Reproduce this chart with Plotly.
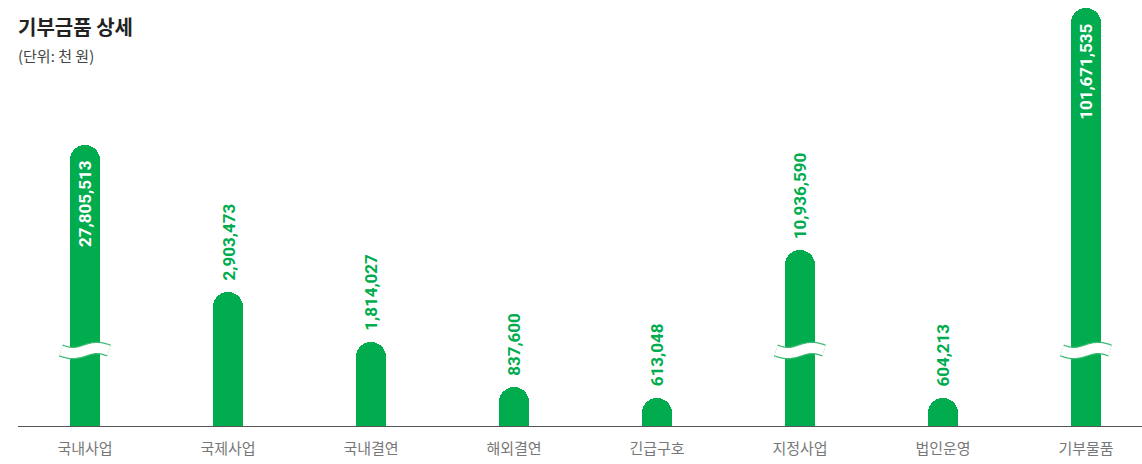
import numpy as np
import plotly.graph_objects as go

# ---- data ----
categories = ["국내사업", "국제사업", "국내결연", "해외결연", "긴급구호", "지정사업", "법인운영", "기부물품"]
values = [27805513, 2903473, 1814027, 837600, 613048, 10936590, 604213, 101671535]
# bars drawn on a broken axis: visual (truncated) height for the broken bars
broken_display = {0: 6.09e6, 5: 3.81e6, 7: 9.06e6}
break_level = 1.636e6
title_text = "기부금품 상세"
unit_text = "(단위: 천 원)"

GREEN = "#00AC4E"
display = [broken_display.get(i, v) for i, v in enumerate(values)]
x = list(range(len(categories)))

fig = go.Figure()
fig.add_trace(go.Bar(
    x=x, y=display, width=0.21,
    marker=dict(color=GREEN, cornerradius=15, line=dict(width=0)),
    hoverinfo="skip",
))

# break marks (white wavy band with thin green edges)
t = np.linspace(0, 1, 40)
for i in broken_display:
    wx = i + (t - 0.5) * 0.336
    wy = break_level - 0.055e6 * np.sin(2 * np.pi * t)
    fig.add_trace(go.Scatter(x=wx, y=wy, mode="lines",
                             line=dict(color="#3dbb74", width=12.5, shape="spline"),
                             hoverinfo="skip", showlegend=False))
    fig.add_trace(go.Scatter(x=wx, y=wy, mode="lines",
                             line=dict(color="white", width=10, shape="spline"),
                             hoverinfo="skip", showlegend=False))

annotations = []
# value labels
for i, (v, d) in enumerate(zip(values, display)):
    inside = i in (0, 7)
    annotations.append(dict(
        x=i, y=d, xref="x", yref="y",
        text=f"{v:,}", textangle=-90, showarrow=False,
        font=dict(family="Roboto", size=17, color="white" if inside else GREEN, weight="bold"),
        yanchor="top" if inside else "bottom",
        yshift=-14 if inside else 9,
        xanchor="center",
    ))

annotations.append(dict(x=0, y=1, xref="paper", yref="paper", xanchor="left", yanchor="top",
                        text=f"<b>{title_text}</b>", showarrow=False, yshift=-5, xshift=-2,
                        font=dict(family="Noto Sans CJK KR", size=20, color="#222222")))
annotations.append(dict(x=0, y=1, xref="paper", yref="paper", xanchor="left", yanchor="top",
                        text=unit_text, showarrow=False, yshift=-38, xshift=-2,
                        font=dict(family="Noto Sans CJK KR", size=15, color="#444444")))

fig.update_layout(
    width=1142, height=464,
    margin=dict(l=18, r=0, t=5, b=38),
    paper_bgcolor="white", plot_bgcolor="white",
    showlegend=False,
    bargap=0,
    xaxis=dict(range=[-0.4685, 7.3916], tickvals=x, ticktext=categories,
               showgrid=False, zeroline=False, showline=True, linecolor="#555555", linewidth=1,
               ticks="", tickfont=dict(family="Noto Sans CJK KR", size=15, color="#777777"),
               ticklabelstandoff=9, fixedrange=True),
    yaxis=dict(range=[0, 9.122e6], visible=False, fixedrange=True),
    annotations=annotations,
)

fig.write_html("out.html", config={"displayModeBar": False},
               post_script="document.body.style.margin='0';document.body.style.overflow='hidden';")
